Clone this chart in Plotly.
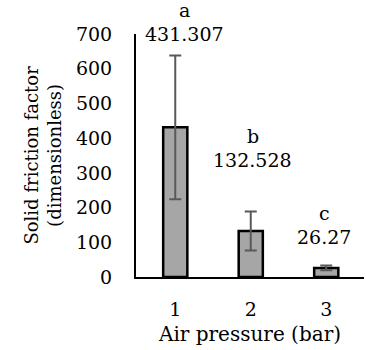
import plotly.graph_objects as go

categories = ["1", "2", "3"]
values = [431.307, 132.528, 26.27]
errors = [207, 56, 7]
letters = ["a", "b", "c"]
value_labels = ["431.307", "132.528", "26.27"]
label_y = [700, 337, 115]
y_ticks = [0, 100, 200, 300, 400, 500, 600, 700]

FONT = "DejaVu Serif"
label_xshift = [9, 2, -2]

fig = go.Figure()
fig.add_trace(go.Bar(
    x=[0, 1, 2], y=values, width=0.32,
    marker=dict(color="#A6A6A6", line=dict(color="black", width=2.5)),
    error_y=dict(type="data", array=errors, visible=True, color="#595959", thickness=2, width=6),
    showlegend=False,
))

for i in range(3):
    fig.add_annotation(x=i, y=label_y[i], xref="x", yref="y", xshift=label_xshift[i],
                       text=value_labels[i], showarrow=False, yanchor="middle",
                       font=dict(family=FONT, size=19, color="black"))
    fig.add_annotation(x=i, y=label_y[i], xref="x", yref="y", xshift=label_xshift[i], yshift=24,
                       text=letters[i], showarrow=False, yanchor="middle",
                       font=dict(family=FONT, size=19, color="black"))

fig.add_annotation(x=-0.412, y=0.5, xref="paper", yref="paper", xanchor="center", yanchor="middle",
                   text="Solid friction factor<br>(dimensionless)", textangle=-90,
                   showarrow=False, font=dict(family=FONT, size=18, color="black"))

fig.update_layout(
    width=366, height=350,
    margin=dict(l=136, r=2, t=34, b=73),
    plot_bgcolor="white", paper_bgcolor="white",
    font=dict(family=FONT, size=19, color="black"),
)
fig.update_xaxes(
    range=[-0.52, 2.5], tickmode="array", tickvals=[0, 1, 2], ticktext=categories,
    showline=True, linecolor="black", linewidth=2, showgrid=False, zeroline=False,
    ticks="outside", ticklen=14, tickcolor="rgba(0,0,0,0)",
    title=dict(text="Air pressure (bar)", font=dict(family=FONT, size=20), standoff=8),
)
fig.update_yaxes(
    range=[0, 700], tickvals=y_ticks, showline=True, linecolor="black", linewidth=2,
    showgrid=False, zeroline=False, ticks="outside", ticklen=18, tickcolor="rgba(0,0,0,0)",
)

fig.write_html("out.html")
